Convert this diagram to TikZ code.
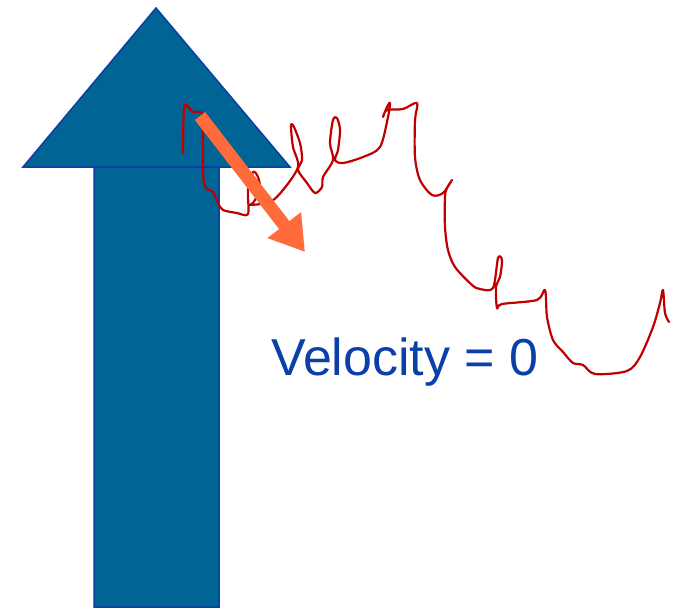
\documentclass[tikz,border=0pt]{standalone}
\usepackage{fontspec}
\setmainfont{Liberation Sans}
\usetikzlibrary{arrows.meta}
\definecolor{shaftblue}{HTML}{006495}
\definecolor{edgeblue}{HTML}{0A3FA8}
\definecolor{textblue}{HTML}{0A40A8}
\definecolor{orangex}{HTML}{FF6B3B}
\definecolor{inkred}{HTML}{C00000}
\tikzset{
  bigarrow/.style={fill=shaftblue,draw=edgeblue,line width=1.5pt,line join=miter},
  pointer/.style={-{Triangle[width=40pt,length=34pt]},line width=13pt,orangex},
  ink/.style={inkred,line width=2.2pt,line cap=round,line join=round}
}
\begin{document}
\begin{tikzpicture}[x=1pt,y=-1pt]
\useasboundingbox (0,0) rectangle (679,608);
% big upward arrow
\draw[bigarrow] (94,607) -- (94,167) -- (23,167) -- (156,8) -- (290,167) -- (219,167) -- (219,607) -- cycle;
\draw[edgeblue,line width=1.5pt] (94,167) -- (219,167);
% handwritten squiggle
\draw[ink] plot[smooth,tension=0.5] coordinates {
  (183,153) (184,108) (188,107) (193,112) (202,113) (203,130) (203,170)
  (205,187) (213,192) (218,203) (223,210) (237,213) (248,214)
  (248,190) (253,172) (258,177) (260,190) (253,203) (250,205)
  (270,202) (283,190) (298,167) (293,147) (291,127) (293,125)
  (300,143) (302,160) (298,170) (307,183) (315,193) (322,187)
  (323,177) (333,160) (330,143) (333,120) (337,118) (340,130)
  (338,150) (335,160) (343,163) (363,157) (380,147) (388,117)
  (390,103) (387,107) (383,117) (387,110) (403,109) (417,103)
  (415,120) (415,157) (420,180) (432,195) (443,193) (452,180)
  (447,188) (445,197) (445,227) (448,250) (455,267) (472,285)
  (480,289) (493,288) (498,258) (502,260) (500,277) (496,287)
  (497,308) (502,304) (537,300) (545,290) (547,317) (553,340)
  (563,352) (573,363) (583,365) (595,374) (627,371) (640,357)
  (653,327) (660,303) (663,290) (665,313) (669,322)};
% orange arrow
\coordinate (tail) at (200,116);
\coordinate (tip) at (305,252);
\draw[pointer] (tail) -- (tip);
\node[anchor=base west,inner sep=0pt,text=textblue,font=\fontsize{52}{60}\selectfont] (vel) at (271,375) {Velocity = 0};
\end{tikzpicture}
\end{document}
